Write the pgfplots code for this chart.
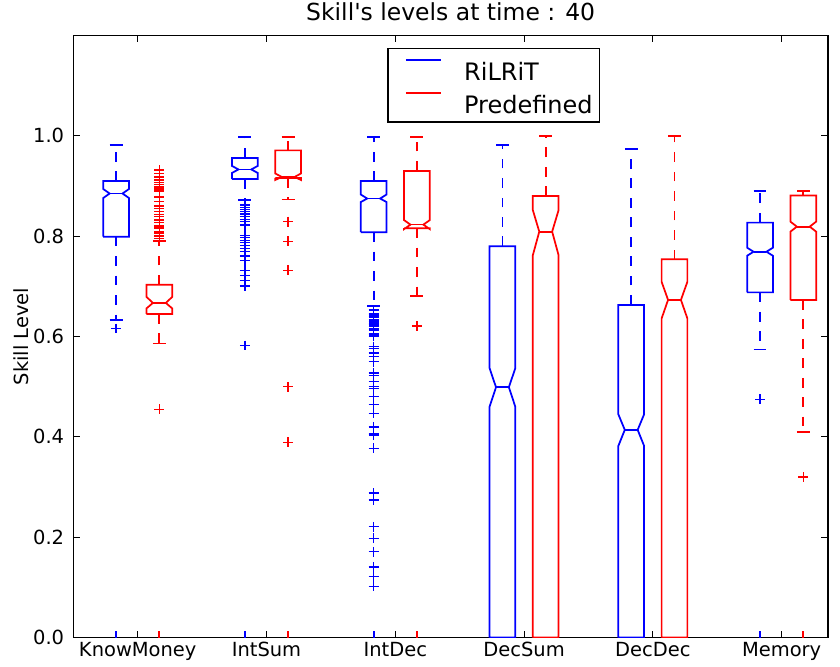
\documentclass[border=0pt]{standalone}
\usepackage{pgfplots}
\pgfplotsset{compat=1.18}
\usepackage{fontspec}
\setmainfont{DejaVu Sans}[Ligatures=TeXOff]
\definecolor{mblue}{RGB}{0,0,255}
\definecolor{mred}{RGB}{255,0,0}
\tikzset{boxl/.style={line width=1.3pt},
  dsh/.style={line width=1.3pt, dash pattern=on 7.3pt off 7.3pt}}
% notched box: color, pos, q1, notch-lo, median, notch-hi, q3
\newcommand{\nbox}[7]{%
  \pgfmathsetmacro{\myxl}{#2-0.1}\pgfmathsetmacro{\myxr}{#2+0.1}%
  \pgfmathsetmacro{\mycl}{#2-0.05}\pgfmathsetmacro{\mycr}{#2+0.05}%
  \edef\mytmp{\noexpand\addplot[#1,boxl,forget plot] coordinates {(\myxl,#3) (\myxr,#3) (\myxr,#4) (\mycr,#5) (\myxr,#6) (\myxr,#7) (\myxl,#7) (\myxl,#6) (\mycl,#5) (\myxl,#4) (\myxl,#3)};
  \noexpand\addplot[#1,boxl,forget plot] coordinates {(\mycl,#5) (\mycr,#5)};}\mytmp}
% upper whisker: color, pos, q3, cap
\newcommand{\uw}[4]{%
  \pgfmathsetmacro{\mycl}{#2-0.05}\pgfmathsetmacro{\mycr}{#2+0.05}%
  \edef\mytmp{\noexpand\addplot[#1,dsh,forget plot] coordinates {(#2,#3) (#2,#4)};
  \noexpand\addplot[#1,boxl,forget plot] coordinates {(\mycl,#4) (\mycr,#4)};}\mytmp}
% lower whisker: color, pos, q1, cap
\newcommand{\lw}[4]{%
  \pgfmathsetmacro{\mycl}{#2-0.05}\pgfmathsetmacro{\mycr}{#2+0.05}%
  \edef\mytmp{\noexpand\addplot[#1,dsh,forget plot] coordinates {(#2,#3) (#2,#4)};
  \noexpand\addplot[#1,boxl,forget plot] coordinates {(\mycl,#4) (\mycr,#4)};
  \noexpand\addplot[#1,boxl,forget plot] coordinates {(#2,0) (#2,0.014)};}\mytmp}
\begin{document}
\begin{tikzpicture}
\begin{axis}[
  scale only axis, width=566pt, height=451.6pt,
  xmin=0.5, xmax=6.36, ymin=0, ymax=1.2,
  axis line style={line width=1pt},
  tick align=inside, tick pos=both,
  major tick length=4.9pt,
  every tick/.style={black, line width=0.8pt},
  xtick={1,2,3,4,5,6},
  xticklabels={KnowMoney,IntSum,IntDec,DecSum,DecDec,Memory},
  ytick={0,0.2,0.4,0.6,0.8,1.0},
  yticklabels={0.0,0.2,0.4,0.6,0.8,1.0},
  ticklabel style={font=\fontsize{14.6}{17}\selectfont},
  yticklabel style={xshift=-3.4pt},
  ylabel={Skill Level},
  ylabel style={font=\fontsize{14.6}{17}\selectfont, at={(axis description cs:-0.0596,0.5)}, anchor=base},
  title={Skill's levels at time : 40},
  title style={font=\fontsize{17.6}{21}\selectfont, at={(axis description cs:0.5,1)}, anchor=base, yshift=5.4pt},
  legend style={at={(axis description cs:0.557,0.979)}, anchor=north, draw=black, line width=1pt,
    font=\fontsize{18}{21.6}\selectfont, inner xsep=5pt, inner ysep=6.75pt,
    nodes={inner sep=0pt, text height=16.75pt, text depth=0pt}, row sep=8pt},
  legend cell align=left,
  legend image code/.code={\path (-7.75pt,0pt) (43pt,0pt); \draw[#1] (0pt,6.5pt) -- (26pt,6.5pt);},
]
\addlegendimage{mblue, line width=1.3pt}
\addlegendentry{RiLRiT}
\addlegendimage{mred, line width=1.3pt}
\addlegendentry{Predefined}

% ---- KnowMoney
\nbox{mblue}{0.832}{0.799}{0.876}{0.885}{0.894}{0.910}
\uw{mblue}{0.832}{0.910}{0.981}
\lw{mblue}{0.832}{0.799}{0.633}
\nbox{mred}{1.168}{0.645}{0.656}{0.667}{0.679}{0.703}
\uw{mred}{1.168}{0.703}{0.790}
\lw{mred}{1.168}{0.645}{0.586}
% ---- IntSum
\nbox{mblue}{1.832}{0.914}{0.926}{0.933}{0.940}{0.956}
\uw{mblue}{1.832}{0.956}{0.998}
\lw{mblue}{1.832}{0.914}{0.872}
\nbox{mred}{2.168}{0.916}{0.912}{0.918}{0.925}{0.971}
\uw{mred}{2.168}{0.971}{0.998}
\lw{mred}{2.168}{0.916}{0.873}
% ---- IntDec
\nbox{mblue}{2.832}{0.808}{0.868}{0.875}{0.883}{0.910}
\uw{mblue}{2.832}{0.910}{0.998}
\lw{mblue}{2.832}{0.808}{0.661}
\nbox{mred}{3.168}{0.816}{0.814}{0.823}{0.832}{0.930}
\uw{mred}{3.168}{0.930}{0.998}
\lw{mred}{3.168}{0.816}{0.681}
% ---- DecSum
\nbox{mblue}{3.832}{0}{0.460}{0.499}{0.537}{0.780}
\uw{mblue}{3.832}{0.780}{0.981}
\nbox{mred}{4.168}{0}{0.762}{0.809}{0.852}{0.880}
\uw{mred}{4.168}{0.880}{0.999}
% ---- DecDec
\nbox{mblue}{4.832}{0}{0.382}{0.414}{0.445}{0.663}
\uw{mblue}{4.832}{0.663}{0.973}
\nbox{mred}{5.168}{0}{0.636}{0.673}{0.709}{0.754}
\uw{mred}{5.168}{0.754}{0.999}
% ---- Memory
\nbox{mblue}{5.832}{0.688}{0.761}{0.769}{0.777}{0.827}
\uw{mblue}{5.832}{0.827}{0.890}
\lw{mblue}{5.832}{0.688}{0.574}
\nbox{mred}{6.168}{0.673}{0.809}{0.819}{0.829}{0.881}
\uw{mred}{6.168}{0.881}{0.890}
\lw{mred}{6.168}{0.673}{0.410}

% ---- outliers
\addplot[color=mblue, only marks, mark=+, mark size=3.7pt, mark options={draw=mblue, line width=1pt}, forget plot] coordinates {
 (0.832,0.616)
 (1.832,0.862) (1.832,0.857) (1.832,0.853) (1.832,0.849) (1.832,0.844) (1.832,0.839)
 (1.832,0.833) (1.832,0.829) (1.832,0.822) (1.832,0.802) (1.832,0.798) (1.832,0.792)
 (1.832,0.787) (1.832,0.782) (1.832,0.776) (1.832,0.769) (1.832,0.762) (1.832,0.760)
 (1.832,0.752) (1.832,0.732) (1.832,0.722) (1.832,0.712) (1.832,0.701) (1.832,0.582)
 (2.832,0.653) (2.832,0.646) (2.832,0.643) (2.832,0.639) (2.832,0.633) (2.832,0.629)
 (2.832,0.626) (2.832,0.623) (2.832,0.620) (2.832,0.616) (2.832,0.613) (2.832,0.606)
 (2.832,0.603) (2.832,0.600) (2.832,0.580) (2.832,0.576) (2.832,0.567) (2.832,0.560)
 (2.832,0.550) (2.832,0.527) (2.832,0.523) (2.832,0.510) (2.832,0.500) (2.832,0.497)
 (2.832,0.480) (2.832,0.464) (2.832,0.447) (2.832,0.420) (2.832,0.407) (2.832,0.404)
 (2.832,0.377) (2.832,0.288) (2.832,0.274) (2.832,0.221) (2.832,0.198) (2.832,0.171)
 (2.832,0.141) (2.832,0.122) (2.832,0.102)
 (5.832,0.475)
};
\addplot[color=mred, only marks, mark=+, mark size=3.7pt, mark options={draw=mred, line width=1pt}, forget plot] coordinates {
 (1.168,0.932) (1.168,0.925) (1.168,0.918) (1.168,0.912) (1.168,0.907) (1.168,0.903)
 (1.168,0.898) (1.168,0.894) (1.168,0.890) (1.168,0.878) (1.168,0.869) (1.168,0.860)
 (1.168,0.855) (1.168,0.849) (1.168,0.843) (1.168,0.839) (1.168,0.832) (1.168,0.827)
 (1.168,0.820) (1.168,0.816) (1.168,0.809) (1.168,0.806) (1.168,0.802) (1.168,0.799)
 (1.168,0.796) (1.168,0.792) (1.168,0.455)
 (2.168,0.829) (2.168,0.790) (2.168,0.732) (2.168,0.500) (2.168,0.389)
 (3.168,0.621)
 (6.168,0.320)
};
\end{axis}
\pgfresetboundingbox
\path[use as bounding box] ([xshift=-55pt,yshift=-22pt]current axis.south west) rectangle ([xshift=9pt,yshift=26.6pt]current axis.north east);
\end{tikzpicture}
\end{document}
